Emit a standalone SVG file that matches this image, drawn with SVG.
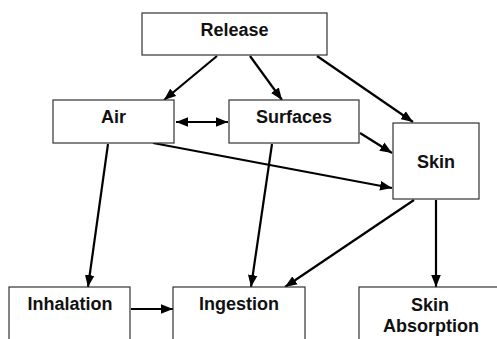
<svg xmlns="http://www.w3.org/2000/svg" width="497" height="339" viewBox="0 0 497 339">
<defs>
<style>
.box{fill:#fff;stroke:#333;stroke-width:1.2}
.lbl{font-family:"Liberation Sans",Arial,sans-serif;font-weight:bold;font-size:18px;fill:#111;text-anchor:middle}
.c{stroke:#000;stroke-width:2.2;fill:none;marker-end:url(#ah)}
</style>
<marker id="ah" markerUnits="userSpaceOnUse" markerWidth="12" markerHeight="10" refX="10" refY="4" orient="auto-start-reverse" viewBox="0 0 10 8">
<path d="M0,0 L10,4 L0,8 Z" fill="#000"/>
</marker>
</defs>
<rect width="497" height="339" fill="#fff"/>
<g id="connectors">
<line class="c" x1="217" y1="56" x2="164" y2="100"/>
<line class="c" x1="250" y1="56" x2="282" y2="100"/>
<line class="c" x1="317" y1="56" x2="413" y2="122"/>
<line class="c" x1="176" y1="122" x2="228" y2="122" style="marker-start:url(#ah)"/>
<line class="c" x1="153" y1="143" x2="392" y2="188"/>
<line class="c" x1="360" y1="133" x2="392" y2="153"/>
<line class="c" x1="108" y1="144" x2="88" y2="287"/>
<line class="c" x1="272" y1="144" x2="251" y2="287"/>
<line class="c" x1="414" y1="200" x2="285" y2="287"/>
<line class="c" x1="436" y1="200" x2="436" y2="287"/>
<line class="c" x1="131" y1="309" x2="173" y2="309"/>
</g>
<g id="release"><rect class="box" x="142" y="13" width="185" height="42"/><text class="lbl" x="234.5" y="36">Release</text></g>
<g id="air"><rect class="box" x="53" y="100" width="121" height="43"/><text class="lbl" x="113.5" y="123">Air</text></g>
<g id="surfaces"><rect class="box" x="229" y="100" width="130" height="43"/><text class="lbl" x="294" y="123">Surfaces</text></g>
<g id="skin"><rect class="box" x="393" y="123" width="86" height="76"/><text class="lbl" x="436" y="168">Skin</text></g>
<g id="inhalation"><rect class="box" x="9" y="287" width="121" height="60"/><text class="lbl" x="70" y="310">Inhalation</text></g>
<g id="ingestion"><rect class="box" x="173" y="287" width="132" height="60"/><text class="lbl" x="239" y="310">Ingestion</text></g>
<g id="skin-absorption"><rect class="box" x="359" y="287" width="150" height="60"/><text class="lbl" x="430" y="311">Skin</text><text class="lbl" x="431" y="332">Absorption</text></g>
</svg>
